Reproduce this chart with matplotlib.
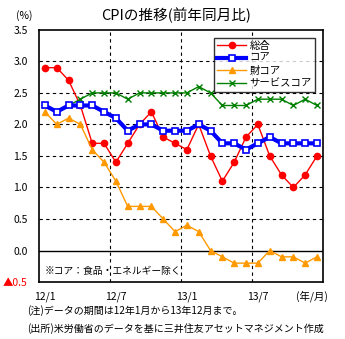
import matplotlib

matplotlib.use("Agg")
import matplotlib.pyplot as plt

plt.rcParams["font.family"] = ["Noto Sans CJK JP", "DejaVu Sans"]

# monthly y/y CPI change, Jan 2012 - Dec 2013
months = list(range(24))
headline = [2.9, 2.9, 2.7, 2.3, 1.7, 1.7, 1.4, 1.7, 2.0, 2.2, 1.8, 1.7,
            1.6, 2.0, 1.5, 1.1, 1.4, 1.8, 2.0, 1.5, 1.2, 1.0, 1.2, 1.5]
core = [2.3, 2.2, 2.3, 2.3, 2.3, 2.2, 2.1, 1.9, 2.0, 2.0, 1.9, 1.9,
        1.9, 2.0, 1.9, 1.7, 1.7, 1.6, 1.7, 1.8, 1.7, 1.7, 1.7, 1.7]
goods_core = [2.2, 2.0, 2.1, 2.0, 1.6, 1.4, 1.1, 0.7, 0.7, 0.7, 0.5, 0.3,
              0.4, 0.3, 0.0, -0.1, -0.2, -0.2, -0.2, 0.0, -0.1, -0.1, -0.2, -0.1]
services_core = [2.3, 2.2, 2.3, 2.4, 2.5, 2.5, 2.5, 2.4, 2.5, 2.5, 2.5, 2.5,
                 2.5, 2.6, 2.5, 2.3, 2.3, 2.3, 2.4, 2.4, 2.4, 2.3, 2.4, 2.3]

xtick_pos = [0, 6, 12, 18]
xtick_labels = ["12/1", "12/7", "13/1", "13/7"]
ytick_vals = [3.5, 3.0, 2.5, 2.0, 1.5, 1.0, 0.5, 0.0, -0.5]
ytick_labels = ["3.5", "3.0", "2.5", "2.0", "1.5", "1.0", "0.5", "0.0", "▲0.5"]

fig = plt.figure(figsize=(3.45, 3.39), dpi=100)
ax = fig.add_axes([0.113, 0.168, 0.823, 0.744])

# dashed grid, solid zero line
for y in ytick_vals[1:-1]:
    if y == 0.0:
        ax.axhline(y, color="black", lw=1.0, zorder=1)
    else:
        ax.axhline(y, color="black", lw=0.8, ls=(0, (3, 3)), zorder=1)
for xb in (5.5, 11.5, 17.5):
    ax.axvline(xb, color="black", lw=0.8, ls=(0, (3, 3)), zorder=1)

ax.plot(months, headline, color="#ff0000", lw=1.0, marker="o", ms=4.5,
        mec="#ff0000", mfc="#ff0000", label="総合", zorder=3)
ax.plot(months, goods_core, color="#ff9900", lw=1.0, marker="^", ms=5,
        mec="#ff9900", mfc="#ff9900", label="財コア", zorder=3)
ax.plot(months, services_core, color="#008000", lw=1.0, marker="x", ms=4,
        mew=1.0, label="サービスコア", zorder=3)
ax.plot(months, core, color="#0000ff", lw=3.0, marker="s", ms=5,
        mec="#0000ff", mfc="white", mew=1.2, label="コア", zorder=4)

ax.set_xlim(-0.5, 23.5)
ax.set_ylim(-0.5, 3.5)
ax.set_xticks(xtick_pos)
ax.set_xticklabels(xtick_labels, fontsize=7.5)
ax.set_yticks(ytick_vals)
ax.set_yticklabels(ytick_labels, fontsize=7.5)
ax.get_yticklabels()[-1].set_color("#ff0000")
ax.tick_params(length=0, pad=8)
ax.tick_params(axis="x", pad=7)
for s in ax.spines.values():
    s.set_linewidth(1.2)
    s.set_color("black")

handles, labels = ax.get_legend_handles_labels()
order = [0, 3, 1, 2]
leg = ax.legend([handles[i] for i in order], [labels[i] for i in order],
                loc="upper right", bbox_to_anchor=(0.99, 0.99), fontsize=7.5,
                frameon=True, fancybox=False, edgecolor="black",
                handlelength=2.8, borderpad=0.3, labelspacing=0.25,
                handletextpad=0.3)
leg.get_frame().set_linewidth(1.0)

ax.text(0.021, 0.044, "※コア：食品・エネルギー除く", transform=ax.transAxes,
        fontsize=7, va="center", ha="left")

fig.text(0.51, 0.955, "CPIの推移(前年同月比)", ha="center", va="center", fontsize=10.5)
fig.text(0.07, 0.955, "(%)", ha="center", va="center", fontsize=7.5)
fig.text(0.905, 0.127, "(年/月)", ha="center", va="center", fontsize=7.5)
fig.text(0.08, 0.085, "(注)データの期間は12年1月から13年12月まで。", fontsize=7.2, va="center")
fig.text(0.08, 0.032, "(出所)米労働省のデータを基に三井住友アセットマネジメント作成",
         fontsize=7.2, va="center")

fig.savefig("out.png", dpi=100)
